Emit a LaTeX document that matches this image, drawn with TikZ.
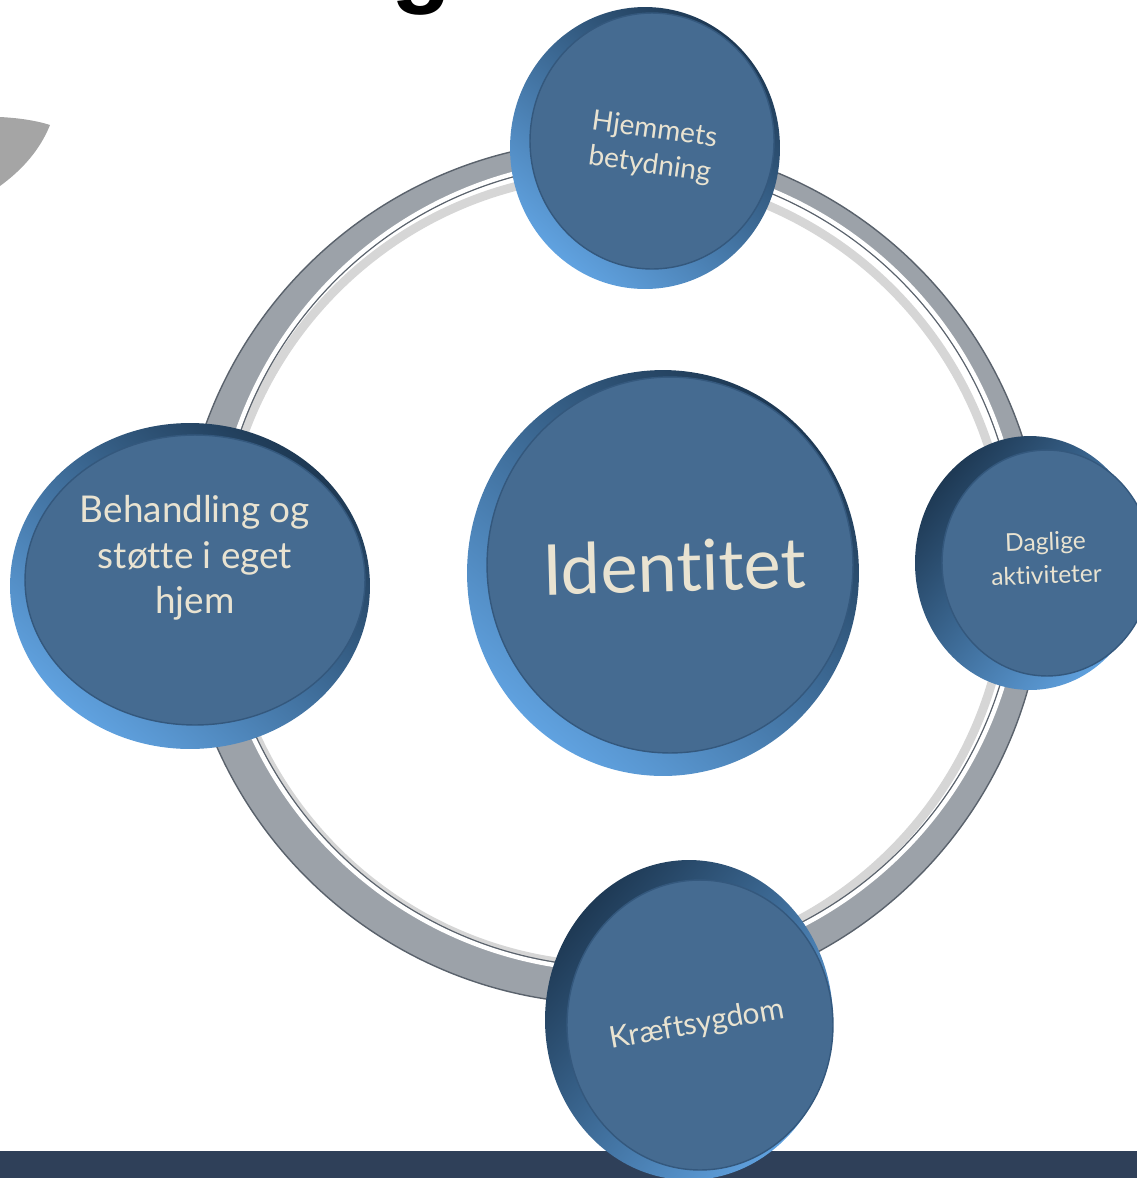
\documentclass[tikz,border=0pt]{standalone}
\usepackage{fontspec}
\setmainfont{Lato}[Ligatures = NoCommon]
\newfontfamily\titlefont{Liberation Sans}
\usepackage{xcolor}
\usepackage{tikz}
\usetikzlibrary{shapes.geometric}
\definecolor{rimlight}{HTML}{60A2E0}
\definecolor{rimdark}{HTML}{1E3954}
\definecolor{facefill}{HTML}{456B91}
\definecolor{faceedge}{HTML}{34587D}
\definecolor{textcream}{HTML}{E9E3D1}
\definecolor{ringgray}{HTML}{9CA2A9}
\definecolor{ringedge}{HTML}{5A626C}
\definecolor{barblue}{HTML}{2F4059}
\definecolor{bladegray}{HTML}{A5A5A5}
\tikzset{
rim/.style = { ellipse, inner sep = 0pt, draw = none, top color = rimdark, bottom color = rimlight },
face/.style = { ellipse, inner sep = 0pt, draw = faceedge, line width = 0.8pt, fill = facefill },
caption/.style = { text = textcream, align = center, inner sep = 0pt },
}

\begin{document}
\begin{tikzpicture}[x = 0.02cm, y = -0.02cm]
    \useasboundingbox (0, 0) rectangle (1137, 1178);
    \clip (0, 0) rectangle (1137, 1178);
    \fill[bladegray] (0, 117) .. controls (20, 118) and (38, 121) .. (50, 125) .. controls (40, 150) and (22, 170) .. (0, 186) -- cycle;
    \node[anchor = base, inner sep = 0pt, font = \titlefont\bfseries\fontsize{56}{60}\selectfont] (title) at (422, -6) {g};
    % ring
    \draw[black!16, line width = 5pt] (614, 570) ellipse (394 and 396);
    \fill[ringgray, even odd rule] (612, 572) ellipse (432 and 432) (618, 565) ellipse (400 and 402);
    \draw[ringedge, line width = 0.8pt] (612, 572) ellipse (432 and 432);
    \draw[white, line width = 2.5pt] (618, 565) ellipse (403 and 405);
    \draw[ringedge, line width = 0.6pt] (618, 565) ellipse (400 and 402);
    \fill[barblue] (0, 1151) rectangle (1137, 1178);
    % discs
    \node[rim, shading angle = -40, minimum width = 5.4cm, minimum height = 5.64cm] (hjem rim) at (645, 148) {};
    \node[face, minimum width = 4.88cm, minimum height = 5.12cm] (hjem face) at (652, 141) {};
    \node[caption, rotate = -8, font = \fontsize{16}{20}\selectfont] (hjem) at (652, 148) {Hjemmets\\betydning};
    \node[rim, shading angle = -40, minimum width = 7.2cm, minimum height = 6.52cm] (behand rim) at (190, 586) {};
    \node[face, minimum width = 6.8cm, minimum height = 5.8cm] (behand face) at (195, 580) {};
    \node[caption, font = \fontsize{21}{26}\selectfont] (behand) at (195, 558) {Behandling og\\støtte i eget\\hjem};
    \node[rim, shading angle = -40, minimum width = 7.84cm, minimum height = 8.12cm] (ident rim) at (663, 573) {};
    \node[face, minimum width = 7.32cm, minimum height = 7.52cm] (ident face) at (670, 565) {};
    \node[caption, rotate = 1.5, font = \fontsize{40}{48}\selectfont] (ident) at (674, 566) {Identitet};
    \node[rim, shading angle = 50, minimum width = 4.6cm, minimum height = 5.08cm] (dagl rim) at (1030, 563) {};
    \node[face, minimum width = 4.2cm, minimum height = 4.52cm] (dagl face) at (1047, 563) {};
    \node[caption, rotate = 2, font = \fontsize{14}{19}\selectfont] (dagl) at (1046, 558) {Daglige\\aktiviteter};
    \node[rim, shading angle = 50, minimum width = 5.76cm, minimum height = 6.4cm] (kraeft rim) at (689, 1020) {};
    \node[face, minimum width = 5.32cm, minimum height = 5.8cm] (kraeft face) at (700, 1025) {};
    \node[caption, rotate = 10, font = \fontsize{17}{20}\selectfont] (kraeft) at (697, 1025) {Kræftsygdom};
\end{tikzpicture}
\end{document}
